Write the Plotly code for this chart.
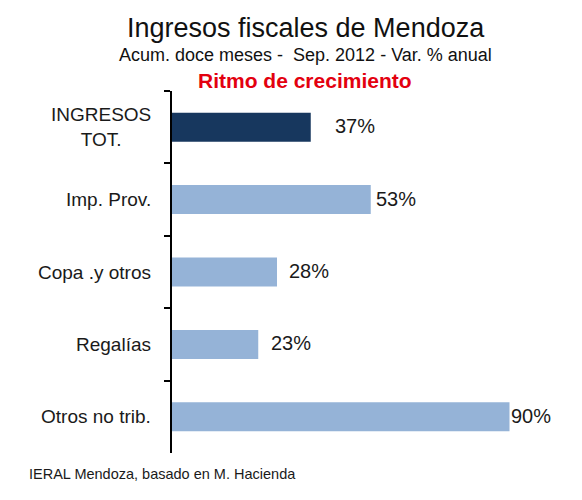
import plotly.graph_objects as go

# ---- data ----
categories = ["INGRESOS<br>TOT.", "Imp. Prov.", "Copa .y otros", "Regalías", "Otros no trib."]
values = [37, 53, 28, 23, 90]
value_labels = ["37%", "53%", "28%", "23%", "90%"]

title_text = "Ingresos fiscales de Mendoza"
subtitle_text = "Acum. doce meses -  Sep. 2012 - Var. % anual"
highlight_text = "Ritmo de crecimiento"
source_text = "IERAL Mendoza, basado en M. Hacienda"

# ---- style ----
OFF = 8  # page body margin in the browser
W, H = 582 - OFF, 500 - OFF
L, R, T, B = 172 - OFF, 35, 91 - OFF, 47
PW, PH = W - L - R, H - T - B
bar_colors = ["#17375E", "#95B3D7", "#95B3D7", "#95B3D7", "#95B3D7"]
label_gap_px = [22, 3, 10, 11, -1]
FONT = "Liberation Sans, Arial, sans-serif"
TXT = "#1a1a1a"


def px(p):
    return (p - OFF - L) / PW


def py(p):
    return (H - B - (p - OFF)) / PH


fig = go.Figure()
fig.add_trace(go.Bar(
    x=values, y=categories, orientation="h",
    marker=dict(color=bar_colors, line=dict(width=0)),
    hoverinfo="skip",
))

annotations = []
for cat, v, lab, gap in zip(categories, values, value_labels, label_gap_px):
    annotations.append(dict(
        x=v, y=cat, xref="x", yref="y", text=lab, showarrow=False,
        xanchor="left", yanchor="middle", xshift=gap, yshift=1,
        font=dict(family=FONT, size=20, color=TXT),
    ))
    annotations.append(dict(
        x=0, y=cat, xref="paper", yref="y", text=cat, showarrow=False,
        xanchor="right", yanchor="middle", align="center", xshift=-19,
        font=dict(family=FONT, size=19, color=TXT),
    ))

annotations += [
    dict(x=px(306), y=py(28), xref="paper", yref="paper", text=title_text,
         showarrow=False, xanchor="center", yanchor="middle",
         font=dict(family=FONT, size=27, color="#111111")),
    dict(x=px(305), y=py(55), xref="paper", yref="paper", text=subtitle_text,
         showarrow=False, xanchor="center", yanchor="middle",
         font=dict(family=FONT, size=18, color="#111111")),
    dict(x=px(305), y=py(81), xref="paper", yref="paper", text="<b>" + highlight_text + "</b>",
         showarrow=False, xanchor="center", yanchor="middle",
         font=dict(family=FONT, size=21, color="#E3000F")),
    dict(x=px(27), y=py(474), xref="paper", yref="paper", text=source_text,
         showarrow=False, xanchor="left", yanchor="middle",
         font=dict(family=FONT, size=14.5, color=TXT)),
]

fig.update_layout(
    width=W, height=H,
    margin=dict(l=L, r=R, t=T, b=B),
    paper_bgcolor="white", plot_bgcolor="white",
    showlegend=False, bargap=0.6,
    annotations=annotations,
    xaxis=dict(range=[0, 100], visible=False, fixedrange=True),
    yaxis=dict(
        autorange="reversed", showline=True, linecolor="black", linewidth=2,
        ticks="outside", ticklen=6, tickwidth=2, tickcolor="black",
        tickson="boundaries", showticklabels=False, showgrid=False,
        zeroline=False, fixedrange=True,
    ),
)

fig.write_html("out.html")
